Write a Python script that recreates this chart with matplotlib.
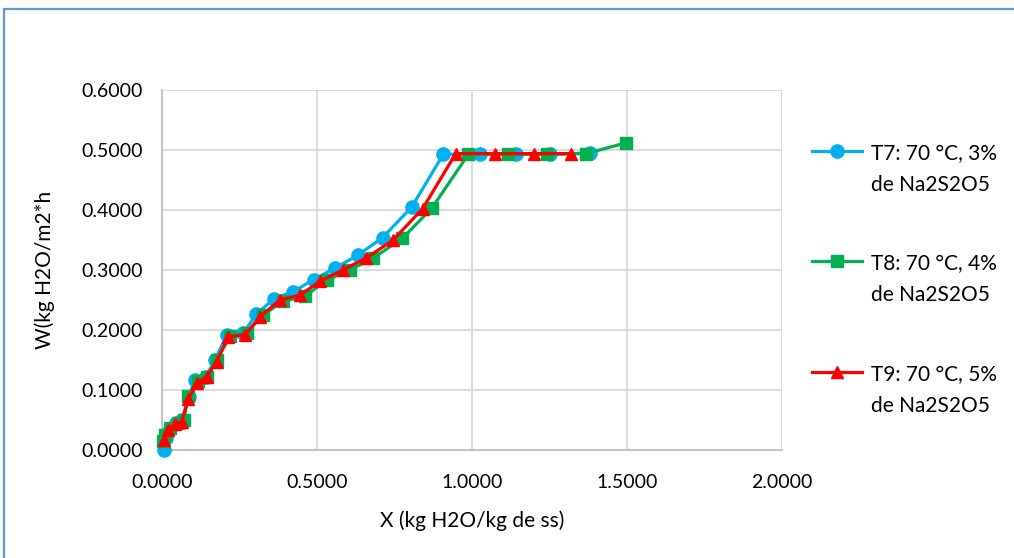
import numpy as np
import matplotlib
matplotlib.use("Agg")
import matplotlib.pyplot as plt
from matplotlib.legend_handler import HandlerLine2D
from matplotlib.patches import Rectangle

plt.rcParams['font.family'] = ['Lato', 'DejaVu Sans']

# ---- data ----
t7_x = [0.005, 0.012, 0.025, 0.045, 0.065, 0.085, 0.105, 0.140, 0.170, 0.208, 0.262,
        0.304, 0.361, 0.423, 0.488, 0.557, 0.632, 0.711, 0.805, 0.907, 1.025, 1.143,
        1.250, 1.380]
t7_y = [0.000, 0.020, 0.035, 0.045, 0.050, 0.088, 0.117, 0.122, 0.150, 0.192, 0.195,
        0.227, 0.252, 0.264, 0.284, 0.303, 0.325, 0.354, 0.405, 0.493, 0.493, 0.493,
        0.493, 0.495]

t8_x = [0.002, 0.010, 0.025, 0.050, 0.070, 0.082, 0.115, 0.145, 0.175, 0.220, 0.272,
        0.325, 0.390, 0.460, 0.530, 0.605, 0.681, 0.775, 0.870, 0.988, 1.116, 1.240,
        1.369, 1.497]
t8_y = [0.015, 0.025, 0.036, 0.045, 0.050, 0.090, 0.115, 0.122, 0.150, 0.190, 0.195,
        0.225, 0.248, 0.256, 0.283, 0.300, 0.320, 0.353, 0.403, 0.493, 0.493, 0.493,
        0.494, 0.512]

t9_x = [0.004, 0.020, 0.041, 0.062, 0.084, 0.111, 0.143, 0.175, 0.213, 0.267, 0.315,
        0.380, 0.444, 0.509, 0.582, 0.659, 0.745, 0.840, 0.947, 1.073, 1.198, 1.320]
t9_y = [0.017, 0.033, 0.044, 0.047, 0.085, 0.111, 0.122, 0.147, 0.189, 0.192, 0.222,
        0.250, 0.258, 0.281, 0.300, 0.320, 0.350, 0.402, 0.494, 0.494, 0.494, 0.494]

labels = ["T7: 70 °C, 3%\nde Na2S2O5",
          "T8: 70 °C, 4%\nde Na2S2O5",
          "T9: 70 °C, 5%\nde Na2S2O5"]
x_ticks = [0.0, 0.5, 1.0, 1.5, 2.0]
y_ticks = [0.0, 0.1, 0.2, 0.3, 0.4, 0.5, 0.6]

# ---- figure ----
W, H = 1014, 558
fig = plt.figure(figsize=(W / 100, H / 100), dpi=100)
ax = fig.add_axes([162.3 / W, 1 - 450 / H, (782 - 162.3) / W, 360 / H])

l1, = ax.plot(t7_x, t7_y, color='#00B0F0', lw=2.3, marker='o', ms=9.5,
              clip_on=False, zorder=3, label=labels[0])
l2, = ax.plot(t8_x, t8_y, color='#00B050', lw=2.3, marker='s', ms=9,
              clip_on=False, zorder=4, label=labels[1])
l3, = ax.plot(t9_x, t9_y, color='#FF0000', lw=2.3, marker='^', ms=9,
              clip_on=False, zorder=5, label=labels[2])

ax.set_xlim(0, 2.0)
ax.set_ylim(0, 0.6)
ax.set_xticks(x_ticks)
ax.set_yticks(y_ticks)
ax.set_xticklabels([f"{v:.4f}" for v in x_ticks])
ax.set_yticklabels([f"{v:.4f}" for v in y_ticks])
ax.tick_params(length=0, labelsize=14, colors='#000000')
ax.tick_params(axis='x', pad=17)
ax.tick_params(axis='y', pad=14)
ax.grid(True, color='#D9D9D9', lw=1.3)
ax.set_axisbelow(True)
for s in ['top', 'right']:
    ax.spines[s].set_visible(False)
for s in ['left', 'bottom']:
    ax.spines[s].set_color('#BFBFBF')
    ax.spines[s].set_linewidth(1.3)

ax.set_xlabel("X (kg H2O/kg de ss)", fontsize=15, labelpad=14)
ax.set_ylabel("W(kg H2O/m2*h", fontsize=15, labelpad=19)


class FirstLineHandler(HandlerLine2D):
    def __init__(self, shift, **kw):
        super().__init__(**kw)
        self.shift = shift

    def create_artists(self, legend, orig_handle, xdescent, ydescent, width,
                       height, fontsize, trans):
        arts = super().create_artists(legend, orig_handle, xdescent, ydescent,
                                      width, height, fontsize, trans)
        for a in arts:
            a.set_ydata(np.asarray(a.get_ydata()) + self.shift)
        return arts


fs_leg = 15
h = FirstLineHandler(shift=14.0)
leg = ax.legend(handles=[l1, l2, l3], loc='upper left',
                bbox_to_anchor=(812 / W, 1 - 144 / H),
                bbox_transform=fig.transFigure, frameon=False,
                fontsize=fs_leg, handlelength=2.4, handletextpad=0.45,
                labelspacing=2.85, borderpad=0, borderaxespad=0,
                handler_map={l1: h, l2: h, l3: h})
for t in leg.get_texts():
    t.set_linespacing(1.69)

# outer border
fig.patches.append(Rectangle((4 / W, -0.1), 1.2, 1 - 9 / H + 0.1,
                             transform=fig.transFigure, fill=False,
                             edgecolor='#5B9BD5', lw=1.6))

fig.savefig("out.png", dpi=100)
